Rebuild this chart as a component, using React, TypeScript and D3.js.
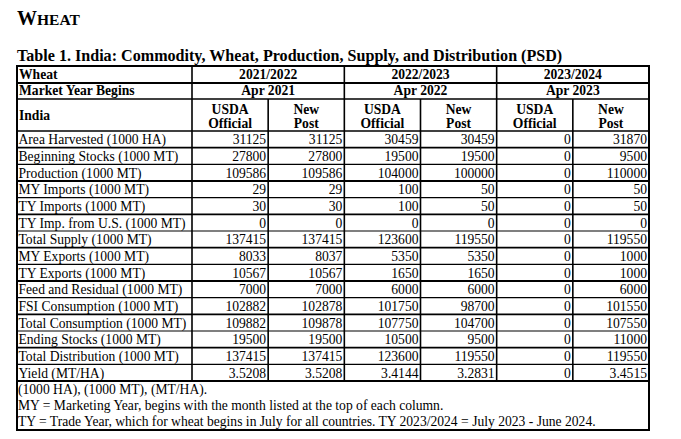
import React from "react";
import * as d3 from "d3";

const rowLabels = [
  "Area Harvested (1000 HA)",
  "Beginning Stocks (1000 MT)",
  "Production (1000 MT)",
  "MY Imports (1000 MT)",
  "TY Imports (1000 MT)",
  "TY Imp. from U.S. (1000 MT)",
  "Total Supply (1000 MT)",
  "MY Exports (1000 MT)",
  "TY Exports (1000 MT)",
  "Feed and Residual (1000 MT)",
  "FSI Consumption (1000 MT)",
  "Total Consumption (1000 MT)",
  "Ending Stocks (1000 MT)",
  "Total Distribution (1000 MT)",
  "Yield (MT/HA)",
];

const years = ["2021/2022", "2022/2023", "2023/2024"];
const yearBegins = ["Apr 2021", "Apr 2022", "Apr 2023"];
const subHeads = [["USDA", "Official"], ["New", "Post"]];

const usda2122 = [31125, 27800, 109586, 29, 30, 0, 137415, 8033, 10567, 7000, 102882, 109882, 19500, 137415, 3.5208];
const post2122 = [31125, 27800, 109586, 29, 30, 0, 137415, 8037, 10567, 7000, 102878, 109878, 19500, 137415, 3.5208];
const usda2223 = [30459, 19500, 104000, 100, 100, 0, 123600, 5350, 1650, 6000, 101750, 107750, 10500, 123600, 3.4144];
const post2223 = [30459, 19500, 100000, 50, 50, 0, 119550, 5350, 1650, 6000, 98700, 104700, 9500, 119550, 3.2831];
const usda2324 = [0, 0, 0, 0, 0, 0, 0, 0, 0, 0, 0, 0, 0, 0, 0];
const post2324 = [31870, 9500, 110000, 50, 50, 0, 119550, 1000, 1000, 6000, 101550, 107550, 11000, 119550, 3.4515];

const columns = [usda2122, post2122, usda2223, post2223, usda2324, post2324];

const footnotes = [
  "(1000 HA), (1000 MT), (MT/HA).",
  "MY = Marketing Year, begins with the month listed at the top of each column.",
  "TY = Trade Year, which for wheat begins in July for all countries. TY 2023/2024 = July 2023 - June 2024.",
];

const FONT = "'Liberation Serif', 'Times New Roman', serif";

export default function App() {
  const left = 17;
  const labelRight = 192;
  const right = 649;
  const top = 66;
  const yWheat = 83;
  const yMarket = 99;
  const yHead = 131;
  const yDataEnd = 381;
  const yFoot = 430;

  const colX = d3.scaleBand<number>().domain(d3.range(6)).range([labelRight, right]);
  const rowY = d3.scaleBand<number>().domain(d3.range(rowLabels.length)).range([yHead, yDataEnd]);
  const cw = colX.bandwidth();
  const rh = rowY.bandwidth();

  const fmt = (v: number, i: number) => (i === rowLabels.length - 1 && v !== 0 ? d3.format(".4f")(v) : String(v));

  const sw = 1.6;
  const fs = 13.6;

  return (
    <svg
      width={681}
      height={439}
      style={{ position: "absolute", left: 0, top: 0, background: "#fff" }}
      fontFamily={FONT}
    >
      <rect x={0} y={0} width={681} height={439} fill="#fff" />
      <text x={17} y={25} fontWeight="bold" fill="#000">
        <tspan fontSize={20}>W</tspan>
        <tspan fontSize={15.5}>HEAT</tspan>
      </text>
      <text x={17} y={61} fontWeight="bold" fontSize={16.1} fill="#000">
        Table 1. India: Commodity, Wheat, Production, Supply, and Distribution (PSD)
      </text>

      {/* header texts */}
      <g fontSize={fs} fontWeight="bold" fill="#000">
        <text x={left + 2} y={yWheat - 4}>Wheat</text>
        <text x={left + 2} y={yMarket - 4}>Market Year Begins</text>
        <text x={left + 2} y={(yMarket + yHead) / 2 + 5}>India</text>
        {years.map((yr, k) => (
          <text key={yr} x={colX(k * 2)! + cw} y={yWheat - 4} textAnchor="middle">{yr}</text>
        ))}
        {yearBegins.map((yb, k) => (
          <text key={yb} x={colX(k * 2)! + cw} y={yMarket - 4} textAnchor="middle">{yb}</text>
        ))}
        {d3.range(6).map((c) => (
          <g key={c}>
            <text x={colX(c)! + cw / 2} y={114} textAnchor="middle">{subHeads[c % 2][0]}</text>
            <text x={colX(c)! + cw / 2} y={128} textAnchor="middle">{subHeads[c % 2][1]}</text>
          </g>
        ))}
      </g>

      {/* data */}
      <g fontSize={fs} fill="#000">
        {rowLabels.map((lab, i) => (
          <text key={lab} x={left + 1.5} y={rowY(i)! + rh - 3.5}>{lab}</text>
        ))}
        {columns.map((col, c) =>
          col.map((v, i) => (
            <text key={c + "-" + i} x={colX(c)! + cw - 2} y={rowY(i)! + rh - 3.5} textAnchor="end">
              {fmt(v, i)}
            </text>
          ))
        )}
        {footnotes.map((f, k) => (
          <text key={k} x={left + 1} y={yDataEnd + 13 + k * 16}>{f}</text>
        ))}
      </g>

      {/* grid lines */}
      <g stroke="#000" strokeWidth={sw} fill="none">
        <rect x={left} y={top} width={right - left} height={yFoot - top} strokeWidth={2} />
        <line x1={left} x2={right} y1={yWheat} y2={yWheat} strokeWidth={2.2} />
        <line x1={left} x2={right} y1={yMarket} y2={yMarket} />
        <line x1={left} x2={right} y1={yHead} y2={yHead} />
        {d3.range(1, rowLabels.length + 1).map((i) => (
          <line key={i} x1={left} x2={right} y1={yHead + i * rh} y2={yHead + i * rh} strokeWidth={i % 2 ? 1.8 : 1.2} />
        ))}
        <line x1={labelRight} x2={labelRight} y1={top} y2={yDataEnd} />
        {d3.range(1, 6).map((c) => (
          <line
            key={c}
            x1={colX(c)!}
            x2={colX(c)!}
            y1={c % 2 === 0 ? top : yMarket}
            y2={yDataEnd}
          />
        ))}
      </g>
    </svg>
  );
}
